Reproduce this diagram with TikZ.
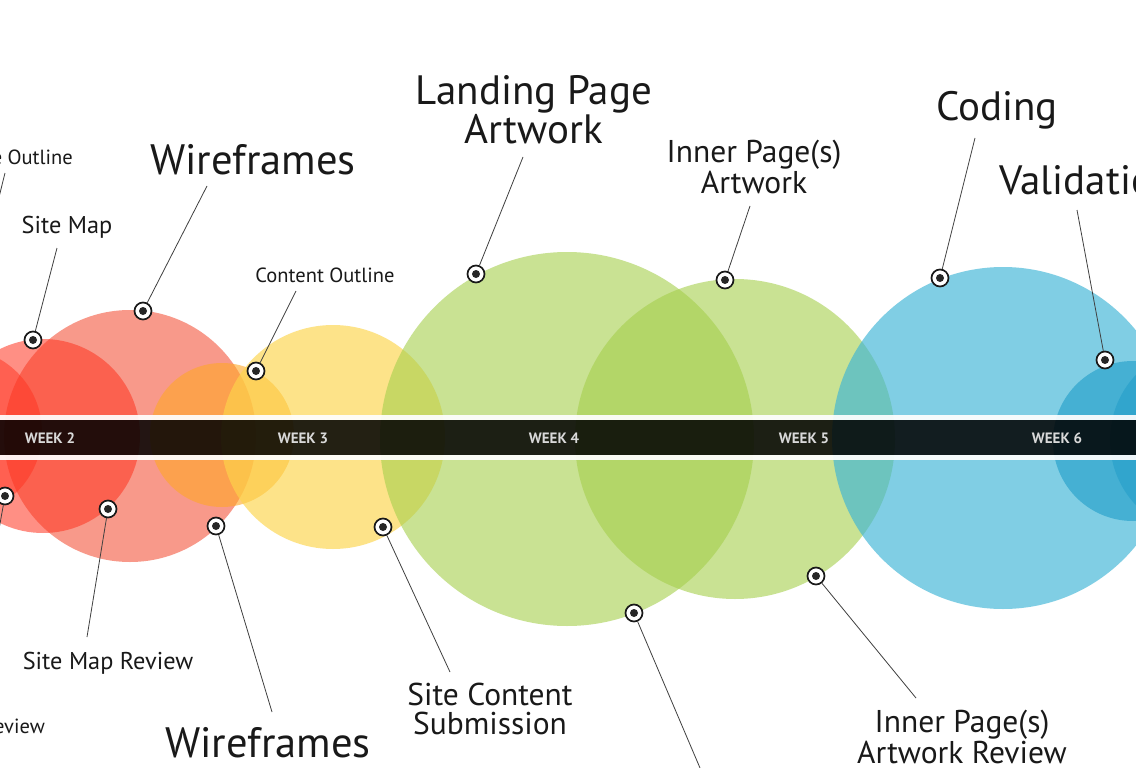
\documentclass[tikz,border=0pt]{standalone}
\usepackage{fontspec}
\setmainfont{PT Sans}
\begin{document}
\begin{tikzpicture}[x=1pt,y=-1pt,
  marker/.style={circle, fill=white, draw=black!90, line width=1.7pt, minimum size=17pt, inner sep=0pt,
    path picture={\fill[black!85] (path picture bounding box.center) circle (4pt);}},
  conn/.style={draw=black!75, line width=0.8pt},
  lbl/.style={text=black!90, inner sep=0pt, align=center},
  week/.style={text=white!85!black, font=\bfseries\fontsize{15}{15}\selectfont, inner sep=0pt},
  f18/.style={font=\fontsize{20.5}{22}\selectfont},
  f22/.style={font=\fontsize{24.3}{26}\selectfont},
  f28/.style={font=\fontsize{31.5}{28.5}\selectfont},
  f41/.style={font=\fontsize{41}{36}\selectfont},
  f42/.style={font=\fontsize{42.5}{36}\selectfont},
]
\definecolor{cRed}{HTML}{F4553C}
\definecolor{cRedB}{HTML}{FF3320}
\definecolor{cOrange}{HTML}{FFA726}
\definecolor{cYellow}{HTML}{FDD54A}
\definecolor{cGreen}{HTML}{A5CF4C}
\definecolor{cBlue}{HTML}{3CB4D6}
\definecolor{cBlueD}{HTML}{1E9CC8}
\clip (0,0) rectangle (1136,768);
\fill[white] (0,0) rectangle (1136,768);
% bubbles
\fill[cRed, fill opacity=0.6] (130,436) circle (126pt);
\fill[cRedB, fill opacity=0.55] (43,436) circle (97pt);
\fill[cRedB, fill opacity=0.5] (-42,432) circle (84pt);
\fill[cOrange, fill opacity=0.6] (222,435) circle (72pt);
\fill[cYellow, fill opacity=0.65] (333,437) circle (112pt);
\fill[cGreen, fill opacity=0.6] (567,439) circle (187pt);
\fill[cGreen, fill opacity=0.6] (735,439) circle (160pt);
\fill[cBlue, fill opacity=0.65] (1003,438) circle (171pt);
\fill[cBlueD, fill opacity=0.6] (1133,441) circle (80pt);
\fill[cBlueD, fill opacity=0.5] (1205,440) circle (95pt);
% timeline band
\fill[white, fill opacity=0.92] (0,415) rectangle (1136,420);
\fill[white, fill opacity=0.92] (0,455) rectangle (1136,460);
\fill[black, fill opacity=0.86] (0,420) rectangle (1136,455);
\node[week] (w2) at (50,438) {WEEK 2};
\node[week] (w3) at (303,438) {WEEK 3};
\node[week] (w4) at (554,438) {WEEK 4};
\node[week] (w5) at (804,438) {WEEK 5};
\node[week] (w6) at (1057,438) {WEEK 6};
% markers
\node[marker] (mSO) at (-24,290) {};
\node[marker] (mSM) at (33,340) {};
\node[marker] (mWF) at (143,311) {};
\node[marker] (mCO) at (256,371) {};
\node[marker] (mLP) at (476,274) {};
\node[marker] (mIP) at (725,280) {};
\node[marker] (mCD) at (940,278) {};
\node[marker] (mVA) at (1105,360) {};
\node[marker] (mSR) at (5,496) {};
\node[marker] (mSMR) at (108,509) {};
\node[marker] (mWFb) at (216,526) {};
\node[marker] (mSC) at (383,527) {};
\node[marker] (mLR) at (634,613) {};
\node[marker] (mIR) at (816,576) {};
% connector free ends
\coordinate (eSO) at (5,173);
\coordinate (eSM) at (57,248);
\coordinate (eWF) at (207,186);
\coordinate (eCO) at (296,291);
\coordinate (eLP) at (523,157);
\coordinate (eIP) at (750,206);
\coordinate (eCD) at (975,138);
\coordinate (eVA) at (1077,210);
\coordinate (eSR) at (-12,590);
\coordinate (eSMR) at (87,637);
\coordinate (eWFb) at (272,712);
\coordinate (eSC) at (450,672);
\coordinate (eLR) at (703,775);
\coordinate (eIR) at (916,698);
\foreach \m/\e in {mSO/eSO,mSM/eSM,mWF/eWF,mCO/eCO,mLP/eLP,mIP/eIP,mCD/eCD,mVA/eVA,mSR/eSR,mSMR/eSMR,mWFb/eWFb,mSC/eSC,mLR/eLR,mIR/eIR}
  \draw[conn] (\m) -- (\e);
% labels
\node[lbl,f18,anchor=east] (tSO) at (73,157) {Site Outline};
\node[lbl,f22] (tSM) at (67,227) {Site Map};
\node[lbl,f42] (tWF) at (253,160) {Wireframes};
\node[lbl,f18] (tCO) at (325,275) {Content Outline};
\node[lbl,f41] (tLP) at (534,110) {Landing Page\\Artwork};
\node[lbl,f28] (tIP) at (754,167) {Inner Page(s)\\Artwork};
\node[lbl,f41] (tCD) at (997,110) {Coding};
\node[lbl,f41,anchor=west] (tVA) at (999,180) {Validation};
\node[lbl,f18,anchor=east] (tSR) at (45,726) {Site Outline Review};
\node[lbl,f22] (tSMR) at (108,663) {Site Map Review};
\node[lbl,f42] (tWFb) at (268,743) {Wireframes};
\node[lbl,f28] (tSC) at (490,709) {Site Content\\Submission};
\node[lbl,f28] (tIR) at (962,737) {Inner Page(s)\\Artwork Review};
\end{tikzpicture}
\end{document}
